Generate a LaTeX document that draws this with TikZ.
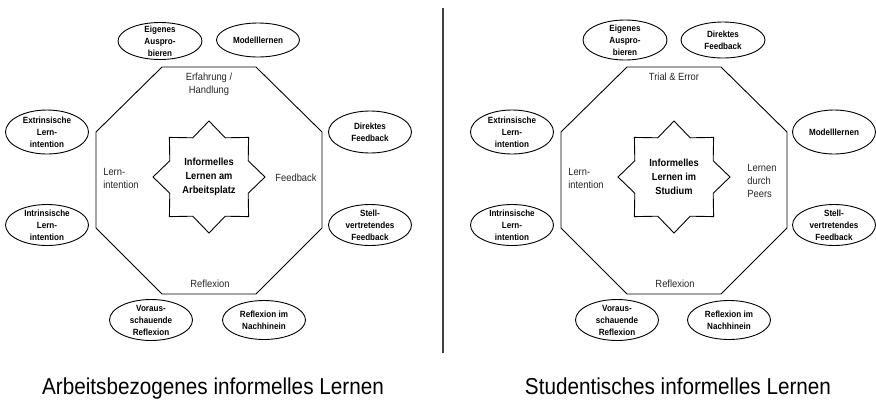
\documentclass[tikz,border=0pt]{standalone}
\usepackage{fontspec}
\setmainfont{Liberation Sans}[FakeStretch=0.9]
\usetikzlibrary{shapes.geometric}

\tikzset{
  idea/.style={font=\bfseries\fontsize{9}{12}\selectfont, align=center, inner sep=0pt},
  ring/.style={line width=0.9pt},
  frame/.style={line width=0.9pt},
  facet/.style={font=\fontsize{10.4}{13}\selectfont, text=black!85, inner sep=0pt},
  core/.style={draw, star, star points=8, star point ratio=1.32, minimum size=112pt,
    inner sep=0pt, line width=0.9pt, align=center, font=\bfseries\fontsize{10.3}{14}\selectfont},
  heading/.style={font=\fontsize{23}{28}\selectfont, anchor=base, inner sep=0pt},
}

\begin{document}
\begin{tikzpicture}[x=1pt,y=-1pt]
    \useasboundingbox (0,0) rectangle (876,408);

    % Arbeitsplatz
    \draw [frame] (162,67) -- (256,67) -- (322,132) -- (322,228) -- (256,294) -- (162,294) -- (96,228) -- (96,132) -- cycle;
    \node [core] (work) at (209,177) {Informelles\\Lernen am\\Arbeitsplatz};

    \node [facet, align=center] (erfahrung) at (209,84) {Erfahrung /\\Handlung};
    \node [facet, align=left] (intention) at (121,178) {Lern-\\intention};
    \node [facet] (feedback) at (296,178) {Feedback};
    \node [facet] (reflexion) at (210,284) {Reflexion};

    \node [idea] (eigenes) at (160,41) {Eigenes\\Auspro-\\bieren};
    \draw [ring] (eigenes.center) ellipse [x radius=42, y radius=18.5];
    \node [idea] (modell) at (258,40) {Modelllernen};
    \draw [ring] (modell.center) ellipse [x radius=41.5, y radius=17];
    \node [idea] (extrins) at (47,132) {Extrinsische\\Lern-\\intention};
    \draw [ring] (extrins.center) ellipse [x radius=41.5, y radius=22];
    \node [idea] (direkt) at (370,132) {Direktes\\Feedback};
    \draw [ring] (direkt.center) ellipse [x radius=41.5, y radius=21];
    \node [idea] (intrins) at (47,225) {Intrinsische\\Lern-\\intention};
    \draw [ring] (intrins.center) ellipse [x radius=41.5, y radius=20.5];
    \node [idea] (stellv) at (370,225) {Stell-\\vertretendes\\Feedback};
    \draw [ring] (stellv.center) ellipse [x radius=41.5, y radius=20.5];
    \node [idea] (voraus) at (151,320) {Voraus-\\schauende\\Reflexion};
    \draw [ring] (voraus.center) ellipse [x radius=41.5, y radius=20.5];
    \node [idea] (nachher) at (264,320) {Reflexion im\\Nachhinein};
    \draw [ring] (nachher.center) ellipse [x radius=41.5, y radius=19.5];

    \node [heading] (worktitle) at (213,394) {Arbeitsbezogenes informelles Lernen};

    % Trennlinie
    \draw [line width=1.1pt, black!75] (443,8) -- (443,353);

    % Studium
    \draw [frame] (627,67) -- (721,67) -- (787,132) -- (787,228) -- (721,294) -- (627,294) -- (561,228) -- (561,132) -- cycle;
    \node [core] (study) at (674,177) {Informelles\\Lernen im\\Studium};

    \node [facet] (trial) at (674,77) {Trial \& Error};
    \node [facet, align=left] (intention2) at (586,178) {Lern-\\intention};
    \node [facet, align=left] (peers) at (762,181) {Lernen\\durch\\Peers};
    \node [facet] (reflexion2) at (675,284) {Reflexion};

    \node [idea] (eigenes2) at (625,40) {Eigenes\\Auspro-\\bieren};
    \draw [ring] (eigenes2.center) ellipse [x radius=42, y radius=20];
    \node [idea] (direkt2) at (723,40) {Direktes\\Feedback};
    \draw [ring] (direkt2.center) ellipse [x radius=42, y radius=18];
    \node [idea] (extrins2) at (512,132) {Extrinsische\\Lern-\\intention};
    \draw [ring] (extrins2.center) ellipse [x radius=41.5, y radius=22];
    \node [idea] (modell2) at (834,132) {Modelllernen};
    \draw [ring] (modell2.center) ellipse [x radius=41.5, y radius=22];
    \node [idea] (intrins2) at (512,225) {Intrinsische\\Lern-\\intention};
    \draw [ring] (intrins2.center) ellipse [x radius=41.5, y radius=20.5];
    \node [idea] (stellv2) at (834,225) {Stell-\\vertretendes\\Feedback};
    \draw [ring] (stellv2.center) ellipse [x radius=41.5, y radius=20.5];
    \node [idea] (voraus2) at (617,320) {Voraus-\\schauende\\Reflexion};
    \draw [ring] (voraus2.center) ellipse [x radius=41.5, y radius=20.5];
    \node [idea] (nachher2) at (729,320) {Reflexion im\\Nachhinein};
    \draw [ring] (nachher2.center) ellipse [x radius=41.5, y radius=19.5];

    \node [heading] (studytitle) at (678,394) {Studentisches informelles Lernen};
\end{tikzpicture}
\end{document}
